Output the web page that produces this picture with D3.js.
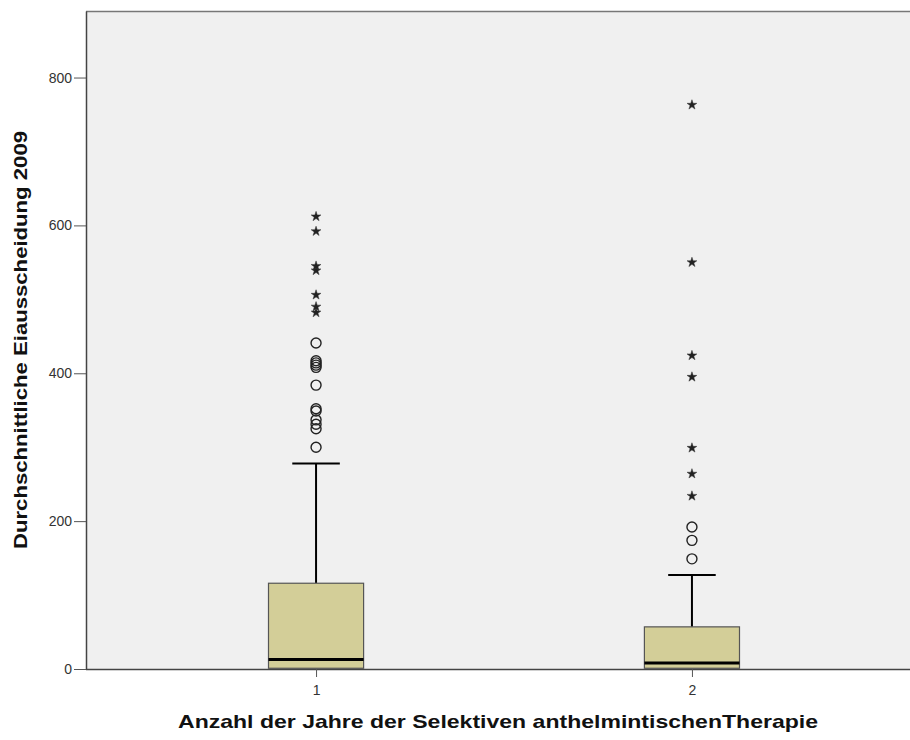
<!DOCTYPE html>
<html><head><meta charset="utf-8">
<script src="https://cdn.jsdelivr.net/npm/d3@7"></script>
<style>body{margin:0;background:#fff}svg{display:block}</style>
</head><body>
<svg id="c" width="910" height="740"></svg>
<script>
const categories = ["1", "2"];
const q1 = [1, 1];
const median = [13, 8];
const q3 = [116, 57];
const whiskerLow = [0, 0];
const whiskerHigh = [278, 127];
const outlierCircles = [
  [300, 325, 331, 337, 349, 352, 384, 408, 411, 414, 417, 441],
  [149, 174, 192]
];
const outlierStars = [
  [482, 490, 506, 539, 545, 592, 612],
  [234, 264, 299, 395, 424, 550, 763]
];
const yTicks = [0, 200, 400, 600, 800];
const yTitle = "Durchschnittliche Eiausscheidung 2009";
const xTitle = "Anzahl der Jahre der Selektiven anthelmintischenTherapie";

const svg = d3.select("#c");
const L = 86, R = 910, T = 11, B = 669;
const x = d3.scalePoint().domain(categories).range([L, 922]).padding(0.612);
const y = d3.scaleLinear().domain([0, 890]).range([B, T]);
const boxW = x.step() * 0.253;
const capW = boxW / 2;

svg.append("rect").attr("x", L).attr("y", T).attr("width", R - L).attr("height", B - T).attr("fill", "#f0f0f0");
svg.append("line").attr("x1", L).attr("x2", R).attr("y1", T + 0.5).attr("y2", T + 0.5).attr("stroke", "#777").attr("stroke-width", 1.5);

const font = "'Liberation Sans', Arial, sans-serif";

categories.forEach((c, i) => {
  const cx = x(c);
  const g = svg.append("g");
  g.append("line").attr("x1", cx).attr("x2", cx).attr("y1", y(q3[i])).attr("y2", y(whiskerHigh[i])).attr("stroke", "#000").attr("stroke-width", 2);
  g.append("line").attr("x1", cx - capW / 2).attr("x2", cx + capW / 2).attr("y1", y(whiskerHigh[i])).attr("y2", y(whiskerHigh[i])).attr("stroke", "#000").attr("stroke-width", 2);
  g.append("rect").attr("x", cx - boxW / 2).attr("y", y(q3[i])).attr("width", boxW).attr("height", y(q1[i]) - y(q3[i]))
    .attr("fill", "#d3ce98").attr("stroke", "#555").attr("stroke-width", 1.2);
  g.append("line").attr("x1", cx - boxW / 2).attr("x2", cx + boxW / 2).attr("y1", y(median[i])).attr("y2", y(median[i])).attr("stroke", "#000").attr("stroke-width", 3);
  g.selectAll("circle").data(outlierCircles[i]).join("circle")
    .attr("cx", cx).attr("cy", d => y(d)).attr("r", 5)
    .attr("fill", "none").attr("stroke", "#222").attr("stroke-width", 1.4);
  g.selectAll("path.star").data(outlierStars[i]).join("path").attr("class", "star")
    .attr("transform", d => `translate(${cx},${y(d)})`)
    .attr("d", d3.symbol(d3.symbolStar, 30))
    .attr("fill", "#222").attr("stroke", "#333").attr("stroke-width", 0.5);
});

const yAxis = svg.append("g").attr("transform", `translate(${L},0)`)
  .call(d3.axisLeft(y).tickValues(yTicks).tickSize(12).tickPadding(2).tickSizeOuter(0).tickFormat(d3.format("d")));
yAxis.select(".domain").attr("stroke", "#444").attr("stroke-width", 1.5);
yAxis.selectAll(".tick line").attr("stroke", "#555");
yAxis.selectAll("text").attr("font-family", font).attr("font-size", 14).attr("fill", "#333");

const xAxis = svg.append("g").attr("transform", `translate(0,${B})`)
  .call(d3.axisBottom(x).tickSize(8).tickSizeOuter(0));
xAxis.select(".domain").attr("d", `M${L},0.5H${R}`).attr("stroke", "#444").attr("stroke-width", 1.5);
xAxis.selectAll(".tick line").attr("stroke", "#555");
xAxis.selectAll("text").attr("font-family", font).attr("font-size", 14).attr("fill", "#333").attr("dy", "1.1em");

svg.append("text").attr("transform", `translate(27,${(T + B) / 2}) rotate(-90)`)
  .attr("text-anchor", "middle").attr("font-family", font).attr("font-weight", "bold").attr("font-size", 19).attr("fill", "#111")
  .attr("textLength", 418).attr("lengthAdjust", "spacingAndGlyphs")
  .text(yTitle);
svg.append("text").attr("x", 498).attr("y", 728)
  .attr("text-anchor", "middle").attr("font-family", font).attr("font-weight", "bold").attr("font-size", 19).attr("fill", "#111")
  .attr("textLength", 640).attr("lengthAdjust", "spacingAndGlyphs")
  .text(xTitle);
</script>
</body></html>
